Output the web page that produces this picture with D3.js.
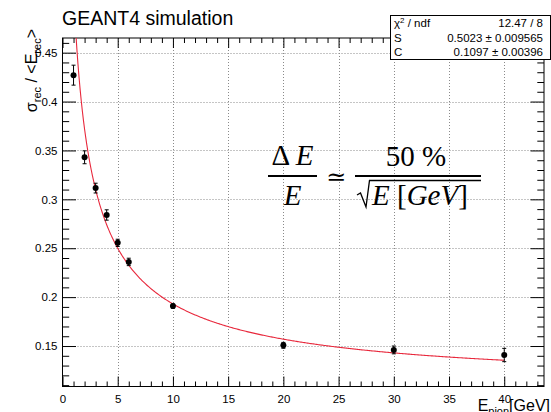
<!DOCTYPE html>
<html><head><meta charset="utf-8">
<script src="https://cdn.jsdelivr.net/npm/d3@7"></script>
<style>body{margin:0;background:#fff}svg{display:block}</style>
</head><body>
<svg id="c" width="551" height="412"></svg>
<script>
// ---- data ----
const energies   = [1, 2, 3, 4, 5, 6, 10, 20, 30, 40];
const resolution = [0.427, 0.343, 0.3115, 0.284, 0.2555, 0.236, 0.1908, 0.1507, 0.146, 0.1408];
const resErrors  = [0.0102, 0.0066, 0.005, 0.0053, 0.0037, 0.0038, 0.0022, 0.003, 0.004, 0.0068];
const xMajorTicks = [0, 5, 10, 15, 20, 25, 30, 35, 40];
const yMajorTicks = [0.15, 0.2, 0.25, 0.3, 0.35, 0.4, 0.45];
const fitS = 0.5023, fitC = 0.1097;
const statsRows = [["χ² / ndf", "12.47 / 8"], ["S", "0.5023 ± 0.009565"], ["C", "0.1097 ± 0.00396"]];

// ---- layout ----
const L = 62.5, R = 544, T = 38, B = 386.5;
const svg = d3.select("#c");
const font = "'Liberation Sans', Arial, Helvetica, sans-serif";
const x = d3.scaleLinear().domain([0, 43.6]).range([L, R]);
const y = d3.scaleLinear().domain([0.1086, 0.465]).range([B, T]);

const xMinor = d3.range(0, 44, 1).filter(v => v % 5 !== 0);
const yMinor = d3.range(11, 47, 1).map(v => v / 100).filter(v => Math.round(v * 100) % 5 !== 0);

// grid
const grid = svg.append("g").attr("stroke", "#8a8a8a").attr("stroke-dasharray", "1,2").attr("stroke-width", 1);
grid.selectAll(".gx").data(xMajorTicks.filter(v => v > 0)).join("line")
  .attr("x1", d => Math.round(x(d)) + 0.5).attr("x2", d => Math.round(x(d)) + 0.5).attr("y1", T).attr("y2", B);
grid.selectAll(".gy").data(yMajorTicks).join("line")
  .attr("y1", d => Math.round(y(d)) + 0.5).attr("y2", d => Math.round(y(d)) + 0.5).attr("x1", L).attr("x2", R);

function styleAxis(g) {
  g.select(".domain").remove();
  g.selectAll("line").attr("stroke", "#000").attr("stroke-width", 1);
  g.selectAll("text").attr("font-family", font).attr("font-size", 11.5).attr("fill", "#000");
}
// bottom
svg.append("g").attr("transform", `translate(0,${B})`)
  .call(d3.axisBottom(x).tickValues(xMajorTicks).tickSizeInner(-10).tickSizeOuter(0).tickPadding(8).tickFormat(d3.format("d")))
  .call(styleAxis);
svg.append("g").attr("transform", `translate(0,${B})`)
  .call(d3.axisBottom(x).tickValues(xMinor).tickSizeInner(-5).tickSizeOuter(0).tickFormat(""))
  .call(styleAxis);
// top
svg.append("g").attr("transform", `translate(0,${T})`)
  .call(d3.axisTop(x).tickValues(xMajorTicks).tickSizeInner(-10).tickSizeOuter(0).tickFormat(""))
  .call(styleAxis);
svg.append("g").attr("transform", `translate(0,${T})`)
  .call(d3.axisTop(x).tickValues(xMinor).tickSizeInner(-5).tickSizeOuter(0).tickFormat(""))
  .call(styleAxis);
// left
svg.append("g").attr("transform", `translate(${L},0)`)
  .call(d3.axisLeft(y).tickValues(yMajorTicks).tickSizeInner(-13.5).tickSizeOuter(0).tickPadding(5).tickFormat(d => String(d)))
  .call(styleAxis);
svg.append("g").attr("transform", `translate(${L},0)`)
  .call(d3.axisLeft(y).tickValues(yMinor).tickSizeInner(-6.7).tickSizeOuter(0).tickFormat(""))
  .call(styleAxis);
// right
svg.append("g").attr("transform", `translate(${R},0)`)
  .call(d3.axisRight(y).tickValues(yMajorTicks).tickSizeInner(-13.5).tickSizeOuter(0).tickFormat(""))
  .call(styleAxis);
svg.append("g").attr("transform", `translate(${R},0)`)
  .call(d3.axisRight(y).tickValues(yMinor).tickSizeInner(-6.7).tickSizeOuter(0).tickFormat(""))
  .call(styleAxis);

// frame
svg.append("rect").attr("x", L).attr("y", T).attr("width", R - L).attr("height", B - T)
  .attr("fill", "none").attr("stroke", "#000").attr("stroke-width", 1);

// fit curve
svg.append("clipPath").attr("id", "clip").append("rect").attr("x", L).attr("y", T).attr("width", R - L).attr("height", B - T);
const curveE = d3.range(0.8, 40.001, 0.1);
svg.append("path").attr("clip-path", "url(#clip)")
  .datum(curveE)
  .attr("fill", "none").attr("stroke", "#e8283c").attr("stroke-width", 1.1)
  .attr("d", d3.line().x(e => x(e)).y(e => y(Math.sqrt(fitS * fitS / e + fitC * fitC))));

// data points
const pts = energies.map((e, i) => ({e, v: resolution[i], err: resErrors[i]}));
const pg = svg.append("g");
pg.selectAll(".eb").data(pts).join("line")
  .attr("x1", d => x(d.e)).attr("x2", d => x(d.e))
  .attr("y1", d => y(d.v - d.err)).attr("y2", d => y(d.v + d.err))
  .attr("stroke", "#000").attr("stroke-width", 1);
pg.selectAll(".ct").data(pts).join("line")
  .attr("x1", d => x(d.e) - 2).attr("x2", d => x(d.e) + 2)
  .attr("y1", d => y(d.v + d.err)).attr("y2", d => y(d.v + d.err))
  .attr("stroke", "#000").attr("stroke-width", 1);
pg.selectAll(".cb").data(pts).join("line")
  .attr("x1", d => x(d.e) - 2).attr("x2", d => x(d.e) + 2)
  .attr("y1", d => y(d.v - d.err)).attr("y2", d => y(d.v - d.err))
  .attr("stroke", "#000").attr("stroke-width", 1);
pg.selectAll("circle").data(pts).join("circle")
  .attr("cx", d => x(d.e)).attr("cy", d => y(d.v)).attr("r", 3).attr("fill", "#000");

// title
svg.append("text").attr("x", 62).attr("y", 25).attr("font-family", font).attr("font-size", 19.5)
  .attr("fill", "#000").text("GEANT4 simulation");

// stats box
svg.append("rect").attr("x", 390.5).attr("y", 15.5).attr("width", 160).attr("height", 44)
  .attr("fill", "#fff").attr("stroke", "#000").attr("stroke-width", 1);
statsRows.forEach((r, i) => {
  const by = 27 + i * 14.5;
  const lt = svg.append("text").attr("x", 394).attr("y", by).attr("font-family", font).attr("font-size", 11.5).attr("fill", "#000");
  if (i === 0) {
    lt.append("tspan").text("χ");
    lt.append("tspan").attr("dy", -4).attr("font-size", 8).text("2");
    lt.append("tspan").attr("dy", 4).text(" / ndf");
  } else lt.text(r[0]);
  svg.append("text").attr("x", 543).attr("y", by).attr("text-anchor", "end").attr("font-family", font)
    .attr("font-size", 11.5).attr("fill", "#000").text(r[1]);
});

// y-axis title
const yt = svg.append("text").attr("transform", "translate(36.5,29) rotate(-90)").attr("text-anchor", "end")
  .attr("font-family", font).attr("font-size", 16).attr("fill", "#000");
yt.append("tspan").text("σ");
yt.append("tspan").attr("dy", 4).attr("font-size", 11).text("rec");
yt.append("tspan").attr("dy", -4).text(" / <E");
yt.append("tspan").attr("dy", 4).attr("font-size", 11).text("rec");
yt.append("tspan").attr("dy", -4).text(">");

// x-axis title
const xt = svg.append("text").attr("x", 550).attr("y", 411).attr("text-anchor", "end")
  .attr("font-family", font).attr("font-size", 16).attr("fill", "#000");
xt.append("tspan").text("E");
xt.append("tspan").attr("dy", 4).attr("font-size", 11).text("pion");
xt.append("tspan").attr("dy", -4).text("[GeV]");

// equation
const serif = "'Liberation Serif', 'DejaVu Serif', 'Times New Roman', serif";
const eq = svg.append("g").attr("font-family", serif).attr("font-size", 29).attr("fill", "#000");
const n1 = eq.append("text").attr("x", 292.5).attr("y", 165).attr("text-anchor", "middle");
n1.append("tspan").text("Δ ");
n1.append("tspan").attr("font-style", "italic").text("E");
eq.append("line").attr("x1", 268).attr("x2", 317).attr("y1", 176).attr("y2", 176).attr("stroke", "#000").attr("stroke-width", 2);
eq.append("text").attr("x", 292.5).attr("y", 205).attr("text-anchor", "middle").attr("font-style", "italic").text("E");
eq.append("text").attr("x", 336).attr("y", 185).attr("text-anchor", "middle").attr("font-family", "'DejaVu Serif', serif").attr("font-size", 24).text("≃");
eq.append("text").attr("x", 416).attr("y", 166).attr("text-anchor", "middle").text("50 %");
eq.append("line").attr("x1", 355).attr("x2", 481).attr("y1", 176).attr("y2", 176).attr("stroke", "#000").attr("stroke-width", 2);
eq.append("path").attr("d", "M357,195 L360.5,193 L366,207 L369.5,180.5 L481,180.5").attr("fill", "none").attr("stroke", "#000").attr("stroke-width", 1.3);
const d2 = eq.append("text").attr("x", 372).attr("y", 205);
d2.append("tspan").attr("font-style", "italic").text("E");
d2.append("tspan").text(" [");
d2.append("tspan").attr("font-style", "italic").text("GeV");
d2.append("tspan").text("]");
</script>
</body></html>
